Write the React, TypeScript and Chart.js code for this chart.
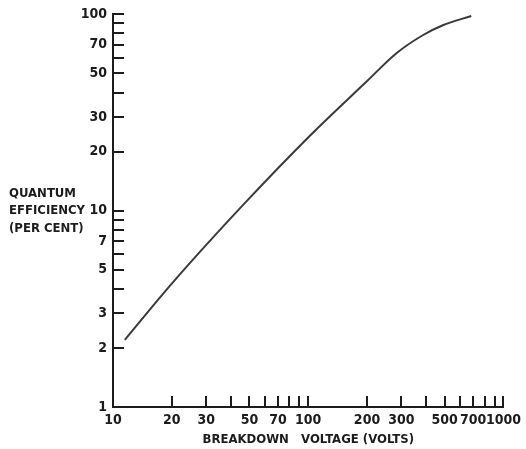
import React, { useEffect, useRef } from "react";
import { Chart, registerables } from "chart.js";

Chart.register(...registerables);

// ---- data ----
const voltage = [11.5, 20, 46.4, 102, 199, 283, 386, 489, 684];
const efficiency = [2.2, 4.25, 10.7, 24.1, 45.5, 63.4, 78.3, 88, 98.2];

const xTickValues = [10, 20, 30, 40, 50, 60, 70, 80, 90, 100, 200, 300, 400, 500, 600, 700, 800, 900, 1000];
const xTickLabels = [10, 20, 30, 50, 70, 100, 200, 300, 500, 700, 1000];
const yTickValues = [1, 2, 3, 4, 5, 6, 7, 8, 9, 10, 20, 30, 40, 50, 60, 70, 80, 90, 100];
const yTickLabels = [1, 2, 3, 5, 7, 10, 20, 30, 50, 70, 100];

const xTitle = "BREAKDOWN   VOLTAGE (VOLTS)";
const yTitleLines = ["QUANTUM", "EFFICIENCY", "(PER CENT)"];

const INK = "#1c1c1c";
const LINE = "#3a3a3a";
const FONT = "'DejaVu Sans Condensed', 'Liberation Sans Narrow', sans-serif";

const inkPlugin = {
  id: "inkTicks",
  afterDraw(chart: any) {
    const { ctx, chartArea } = chart;
    const x = chart.scales.x;
    const y = chart.scales.y;
    ctx.save();
    ctx.strokeStyle = INK;
    ctx.lineWidth = 2;
    ctx.lineCap = "butt";
    ctx.beginPath();
    for (const v of yTickValues) {
      if (v === 1) continue;
      const py = Math.round(y.getPixelForValue(v));
      ctx.moveTo(chartArea.left, py);
      ctx.lineTo(chartArea.left + 11, py);
    }
    for (const v of xTickValues) {
      if (v === 10) continue;
      const px = Math.round(x.getPixelForValue(v));
      ctx.moveTo(px, chartArea.bottom);
      ctx.lineTo(px, chartArea.bottom - 11);
    }
    ctx.stroke();

    // horizontal y-axis title, like the original lettering
    ctx.fillStyle = INK;
    ctx.font = `bold 13px ${FONT}`;
    ctx.textAlign = "left";
    ctx.textBaseline = "middle";
    const mid = y.getPixelForValue(10);
    yTitleLines.forEach((t, i) => ctx.fillText(t, 9, mid + (i - 1) * 17.5));
    ctx.restore();
  },
};

export default function App() {
  const ref = useRef<HTMLCanvasElement | null>(null);

  useEffect(() => {
    if (!ref.current) return;
    const chart = new Chart(ref.current, {
      type: "line",
      data: {
        datasets: [
          {
            data: voltage.map((v, i) => ({ x: v, y: efficiency[i] })),
            borderColor: LINE,
            borderWidth: 2,
            pointRadius: 0,
            fill: false,
            cubicInterpolationMode: "monotone",
          },
        ],
      },
      options: {
        animation: false,
        responsive: false,
        devicePixelRatio: 1,
        layout: { padding: { top: 11, right: 22, left: 0, bottom: 0 } },
        plugins: { legend: { display: false }, tooltip: { enabled: false }, title: { display: false } },
        scales: {
          x: {
            type: "logarithmic",
            min: 10,
            max: 1000,
            afterFit: (s: any) => {
              s.height = 42;
            },
            afterBuildTicks: (s: any) => {
              s.ticks = xTickValues.map((v) => ({ value: v }));
            },
            grid: { display: true, drawOnChartArea: false, drawTicks: false },
            border: { display: true, color: INK, width: 2 },
            ticks: {
              autoSkip: false,
              maxRotation: 0,
              minRotation: 0,
              padding: 5,
              color: INK,
              font: { family: FONT, size: 14, weight: "bold" },
              callback: (v: any) => (xTickLabels.includes(Number(v)) ? String(v) : ""),
            },
            title: {
              display: true,
              text: xTitle,
              color: INK,
              padding: { top: 0, bottom: 2 },
              font: { family: FONT, size: 13, weight: "bold" },
            },
          },
          y: {
            type: "logarithmic",
            min: 1,
            max: 100,
            afterFit: (s: any) => {
              s.width = 113;
            },
            afterBuildTicks: (s: any) => {
              s.ticks = yTickValues.map((v) => ({ value: v }));
            },
            grid: { display: true, drawOnChartArea: false, drawTicks: false },
            border: { display: true, color: INK, width: 2 },
            ticks: {
              autoSkip: false,
              padding: 6,
              color: INK,
              font: { family: FONT, size: 14, weight: "bold" },
              callback: (v: any) => (yTickLabels.includes(Number(v)) ? String(v) : ""),
            },
          },
        },
      },
      plugins: [inkPlugin],
    } as any);
    return () => chart.destroy();
  }, []);

  return (
    <div style={{ position: "fixed", left: 0, top: 0, width: 526, height: 449, background: "#fff" }}>
      <canvas ref={ref} width={526} height={449} style={{ display: "block" }} />
    </div>
  );
}
